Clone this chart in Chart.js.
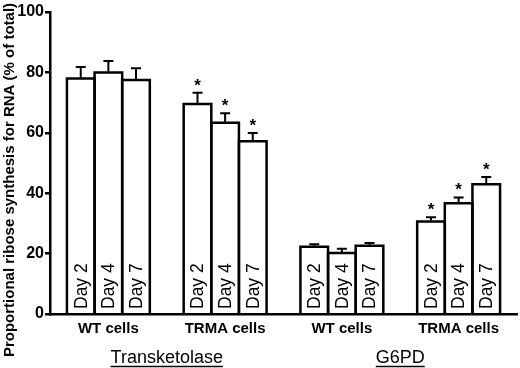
<!DOCTYPE html>
<html lang="en">
<head>
    <meta charset="UTF-8">
    <title>Ribose synthesis for RNA</title>
    <style>
        body {
            margin: 0;
            background: #fff;
        }

        .wrap {
            width: 520px;
            height: 368px;
        }
    </style>
</head>
<body>

<div class="wrap">
    <canvas id="myChart" width="520" height="368"></canvas>
</div>

<script src="https://cdn.jsdelivr.net/npm/chart.js"></script>
<script>
    // groups along the x axis
    const groups = ['WT cells', 'TRMA cells', 'WT cells', 'TRMA cells'];
    const enzymes = ['Transketolase', 'G6PD'];
    const days = ['Day 2', 'Day 4', 'Day 7'];

    // values per day, one entry per group
    const day2 = [78.0, 69.5, 22.3, 30.6];
    const day4 = [80.0, 63.3, 20.2, 36.7];
    const day7 = [77.5, 57.2, 22.6, 43.0];

    // error (upper half only)
    const day2Err = [3.8, 3.8, 0.8, 1.4];
    const day4Err = [3.8, 3.2, 1.4, 1.9];
    const day7Err = [3.9, 2.7, 0.9, 2.4];

    // significant vs WT
    const significant = [false, true, false, true];

    const yTicks = [0, 20, 40, 60, 80, 100];
    const yTitle = 'Proportional ribose synthesis for RNA (% of total)';

    const values = [day2, day4, day7];
    const errors = [day2Err, day4Err, day7Err];

    // outlines (shared edges), error bars, asterisks and labels inside bars
    const barExtras = {
        id: 'barExtras',
        afterDatasetsDraw(chart) {
            const ctx = chart.ctx;
            const y = chart.scales.y;
            const n = chart.data.datasets.length;
            ctx.save();
            chart.data.datasets.forEach((ds, di) => {
                const meta = chart.getDatasetMeta(di);
                meta.data.forEach((bar, i) => {
                    // half the spacing between neighbouring bars of a group
                    const m0 = chart.getDatasetMeta(0).data[i];
                    const m1 = chart.getDatasetMeta(n - 1).data[i];
                    const half = (m1.x - m0.x) / (n - 1) / 2;
                    const left = bar.x - half;
                    const right = bar.x + half;
                    const top = y.getPixelForValue(values[di][i]);
                    const base = y.getPixelForValue(0);

                    ctx.strokeStyle = '#000';
                    ctx.lineWidth = 2.5;
                    ctx.lineJoin = 'miter';
                    ctx.beginPath();
                    ctx.moveTo(left, base);
                    ctx.lineTo(left, top);
                    ctx.lineTo(right, top);
                    ctx.lineTo(right, base);
                    ctx.stroke();

                    const errTop = y.getPixelForValue(values[di][i] + errors[di][i]);
                    ctx.lineWidth = 2;
                    ctx.beginPath();
                    ctx.moveTo(bar.x, top - 1);
                    ctx.lineTo(bar.x, errTop);
                    ctx.moveTo(bar.x - 5, errTop);
                    ctx.lineTo(bar.x + 5, errTop);
                    ctx.stroke();

                    if (significant[i]) {
                        ctx.fillStyle = '#000';
                        ctx.font = 'bold 17px "Liberation Sans", Arial';
                        ctx.textAlign = 'center';
                        ctx.textBaseline = 'alphabetic';
                        ctx.fillText('*', bar.x, errTop - 2);
                    }

                    // day label, rotated
                    ctx.save();
                    ctx.translate(bar.x, base - 5);
                    ctx.rotate(-Math.PI / 2);
                    ctx.fillStyle = '#000';
                    ctx.font = '17.5px "Liberation Sans", Arial';
                    ctx.textAlign = 'left';
                    ctx.textBaseline = 'middle';
                    ctx.fillText(ds.label, 0, 1);
                    ctx.restore();
                });
            });
            ctx.restore();
        },
        afterDraw(chart) {
            const ctx = chart.ctx;
            const x = chart.scales.x;
            ctx.save();
            ctx.fillStyle = '#000';
            ctx.strokeStyle = '#000';

            // enzyme names under each pair of groups
            ctx.font = '18px "Liberation Sans", Arial';
            ctx.textAlign = 'center';
            ctx.textBaseline = 'alphabetic';
            enzymes.forEach((name, k) => {
                const cx = (x.getPixelForValue(k * 2) + x.getPixelForValue(k * 2 + 1)) / 2;
                const w = ctx.measureText(name).width;
                ctx.fillText(name, cx, 363);
                ctx.lineWidth = 1.5;
                ctx.beginPath();
                ctx.moveTo(cx - w / 2, 366.5);
                ctx.lineTo(cx + w / 2, 366.5);
                ctx.stroke();
            });

            // y title
            ctx.save();
            ctx.translate(10, 180);
            ctx.rotate(-Math.PI / 2);
            ctx.font = 'bold 15px "Liberation Sans", Arial';
            ctx.textAlign = 'center';
            ctx.textBaseline = 'middle';
            ctx.fillText(yTitle, 0, 0);
            ctx.restore();

            ctx.restore();
        }
    };

    const ctx = document.getElementById('myChart').getContext('2d');
    const myChart = new Chart(ctx, {
        type: 'bar',
        data: {
            labels: groups,
            datasets: days.map((d, i) => ({
                label: d,
                data: values[i],
                backgroundColor: '#fff',
                borderWidth: 0,
                barPercentage: 1,
                categoryPercentage: 0.71
            }))
        },
        options: {
            responsive: false,
            animation: false,
            devicePixelRatio: 1,
            layout: {
                padding: { top: 12, right: 3, left: 0, bottom: 0 }
            },
            plugins: {
                legend: { display: false },
                tooltip: { enabled: false }
            },
            scales: {
                x: {
                    grid: { display: false, drawTicks: false },
                    border: { color: '#000', width: 2.5 },
                    ticks: {
                        color: '#000',
                        padding: 6,
                        font: { family: '"Liberation Sans", Arial', size: 15, weight: 'bold' },
                        maxRotation: 0
                    },
                    afterFit: (scale) => { scale.height = 54; }
                },
                y: {
                    min: 0,
                    max: 100,
                    afterBuildTicks: (scale) => { scale.ticks = yTicks.map(v => ({ value: v })); },
                    grid: { display: true, drawOnChartArea: false, color: '#000', lineWidth: 2.5, tickLength: 5 },
                    border: { color: '#000', width: 2.5 },
                    ticks: {
                        color: '#000',
                        padding: 1,
                        font: { family: '"Liberation Sans", Arial', size: 16, weight: 'bold' }
                    },
                    afterFit: (scale) => { scale.width = 50; }
                }
            }
        },
        plugins: [barExtras]
    });
</script>

</body>
</html>
